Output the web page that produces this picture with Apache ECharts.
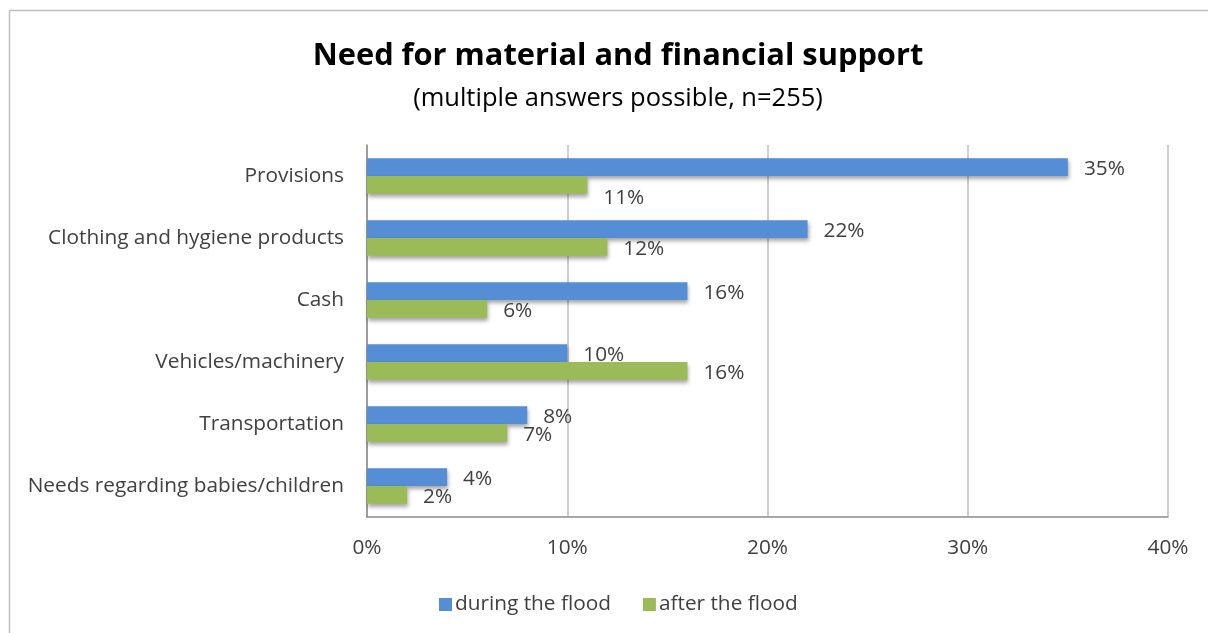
<!DOCTYPE html>
<html>
<head>
<meta charset="utf-8">
<title>Need for material and financial support</title>
<script src="https://cdn.jsdelivr.net/npm/echarts@6/dist/echarts.min.js"></script>
<style>
  html, body { margin: 0; padding: 0; background: #ffffff; }
  #chart { width: 1208px; height: 633px; }
</style>
</head>
<body>
<div id="chart"></div>
<script>
// Support needs, share of respondents (%)
const categories = [
  'Provisions',
  'Clothing and hygiene products',
  'Cash',
  'Vehicles/machinery',
  'Transportation',
  'Needs regarding babies/children'
];
const duringFlood = [35, 22, 16, 10, 8, 4];
const afterFlood = [11, 12, 6, 16, 7, 2];
const seriesNames = ['during the flood', 'after the flood'];
const xTicks = { min: 0, max: 40, step: 10 };

const FONT = '"Open Sans", "Noto Sans", sans-serif';
const BLUE = '#558ed5';
const GREEN = '#9bbb59';
const TEXT = '#404040';
const SIZE = 20.8;

const chart = echarts.init(document.getElementById('chart'), null, { renderer: 'canvas' });

const barShadow = {
  shadowColor: 'rgba(0,0,0,0.35)',
  shadowBlur: 4,
  shadowOffsetX: 1,
  shadowOffsetY: 3
};

const valueLabel = {
  show: true,
  position: 'right',
  distance: 16,
  offset: [0, 2],
  color: TEXT,
  fontFamily: FONT,
  fontSize: SIZE,
  formatter: p => p.value + '%'
};

// the "after" label of the first row sits a little lower so it clears the long bar above
const afterData = afterFlood.map((v, i) =>
  i === 0 ? { value: v, label: { offset: [0, 13] } } : v
);

chart.setOption({
  animation: false,
  backgroundColor: '#ffffff',
  graphic: [{
    type: 'rect',
    silent: true,
    shape: { x: 9.5, y: 10.5, width: 1400, height: 800 },
    style: { fill: 'none', stroke: '#bfbfbf', lineWidth: 1.5 }
  }],
  title: [{
    text: 'Need for material and financial support',
    left: 613,
    textAlign: 'center',
    top: 36,
    textStyle: { fontFamily: FONT, fontWeight: 'bold', fontSize: 30.8, color: '#000000' }
  }, {
    text: '(multiple answers possible, n=255)',
    left: 613,
    textAlign: 'center',
    top: 81,
    textStyle: { fontFamily: FONT, fontWeight: 'normal', fontSize: 25.5, color: '#000000' }
  }],
  legend: {
    data: seriesNames,
    left: 434,
    top: 589,
    icon: 'rect',
    itemWidth: 13,
    itemHeight: 13,
    itemGap: 32,
    textStyle: { fontFamily: FONT, fontSize: SIZE, color: TEXT, padding: [0, 0, 0, -2] }
  },
  grid: { left: 367, right: 40, top: 145, bottom: 116, containLabel: false },
  xAxis: {
    type: 'value',
    min: xTicks.min,
    max: xTicks.max,
    interval: xTicks.step,
    axisLine: { show: true, lineStyle: { color: '#8c8c8c', width: 1.5 } },
    axisTick: { show: false },
    axisLabel: {
      margin: 21,
      fontFamily: FONT,
      fontSize: SIZE,
      color: TEXT,
      formatter: '{value}%'
    },
    splitLine: { show: true, lineStyle: { color: '#bfbfbf', width: 1.5 } }
  },
  yAxis: {
    type: 'category',
    inverse: true,
    data: categories,
    axisLine: { show: true, lineStyle: { color: '#8c8c8c', width: 1.5 } },
    axisTick: { show: false },
    axisLabel: {
      margin: 23,
      fontFamily: FONT,
      fontSize: SIZE,
      color: TEXT,
      padding: [4, 0, 0, 0]
    }
  },
  series: [{
    name: seriesNames[0],
    type: 'bar',
    data: duringFlood,
    barGap: '0%',
    barCategoryGap: '43%',
    itemStyle: Object.assign({ color: BLUE }, barShadow),
    label: valueLabel
  }, {
    name: seriesNames[1],
    type: 'bar',
    data: afterData,
    barGap: '0%',
    barCategoryGap: '43%',
    itemStyle: Object.assign({ color: GREEN }, barShadow),
    label: valueLabel
  }]
});
</script>
</body>
</html>
